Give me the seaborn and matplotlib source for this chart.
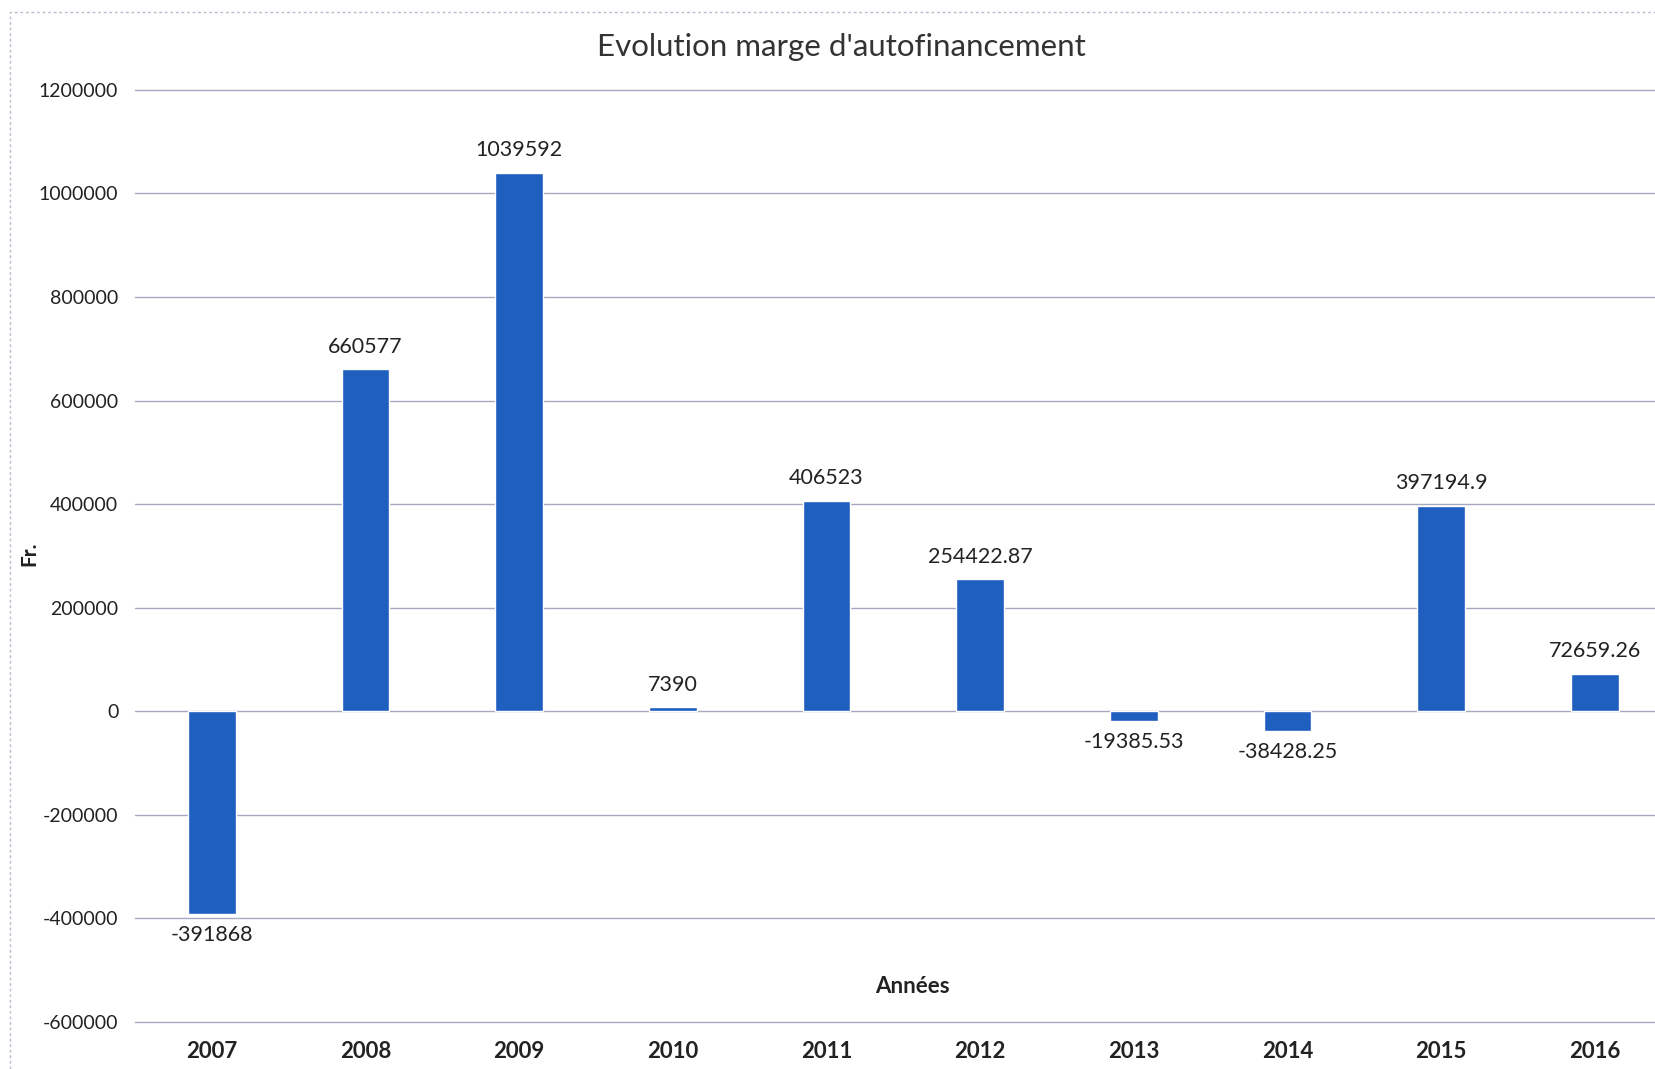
import matplotlib
matplotlib.use("Agg")
import matplotlib.pyplot as plt
import seaborn as sns
import pandas as pd
from matplotlib.patches import Rectangle

# Données
annees = ["2007", "2008", "2009", "2010", "2011", "2012", "2013", "2014", "2015", "2016"]
marge = [-391868, 660577, 1039592, 7390, 406523, 254422.87, -19385.53, -38428.25, 397194.9, 72659.26]
y_ticks = [-600000, -400000, -200000, 0, 200000, 400000, 600000, 800000, 1000000, 1200000]

df = pd.DataFrame({"Année": annees, "Marge": marge})

sns.set_style("white")
plt.rcParams['font.family'] = ['Lato', 'DejaVu Sans']

fig = plt.figure(figsize=(16.56, 10.69), dpi=100)
ax = fig.add_axes([0.0815, 0.044, 0.928, 0.872])

sns.barplot(data=df, x="Année", y="Marge", color="#1f5fbf", width=0.31,
            saturation=1, ax=ax, zorder=3)

ax.set_ylim(-600000, 1200000)
ax.set_xlim(-0.5, 9.5)
ax.set_yticks(y_ticks)
ax.set_yticklabels([str(t) for t in y_ticks], fontsize=14, color="#222222")
ax.grid(axis='y', color="#a4a8c0", linewidth=1.0, zorder=0)
ax.grid(axis='x', visible=False)
for g in ax.yaxis.get_gridlines():
    g.set_clip_on(False)
for s in ax.spines.values():
    s.set_visible(False)
ax.tick_params(axis='y', length=0, pad=12)
ax.tick_params(axis='x', length=0, pad=14)
for lab in ax.get_xticklabels():
    lab.set_fontsize(16)
    lab.set_fontweight('bold')
    lab.set_color("#222222")
ax.set_xlabel("")
ax.set_ylabel("")

# Étiquettes de valeurs
def fmt(v):
    return ('%.2f' % v).rstrip('0').rstrip('.')

for i, v in enumerate(marge):
    if v >= 0:
        ax.annotate(fmt(v), (i, v), xytext=(0, 9), textcoords='offset points',
                    ha='center', va='bottom', fontsize=15.5, color="#222222")
    else:
        ax.annotate(fmt(v), (i, v), xytext=(0, -8), textcoords='offset points',
                    ha='center', va='top', fontsize=15.5, color="#222222")

fig.text(0.508, 0.956, "Evolution marge d'autofinancement", ha='center', va='center',
         fontsize=22.5, color="#333333")
fig.text(0.551, 0.077, "Années", ha='center', va='center', fontsize=16,
         fontweight='bold', color="#222222")
fig.text(0.018, 0.482, "Fr.", ha='center', va='center', fontsize=15,
         fontweight='bold', rotation=90, color="#222222")

fig.patches.append(Rectangle((0.006, -0.01), 1.1, 0.999, transform=fig.transFigure,
                             fill=False, edgecolor="#b8bccc", linewidth=1,
                             linestyle=(0, (2, 2))))

fig.savefig("out.png", dpi=100)
